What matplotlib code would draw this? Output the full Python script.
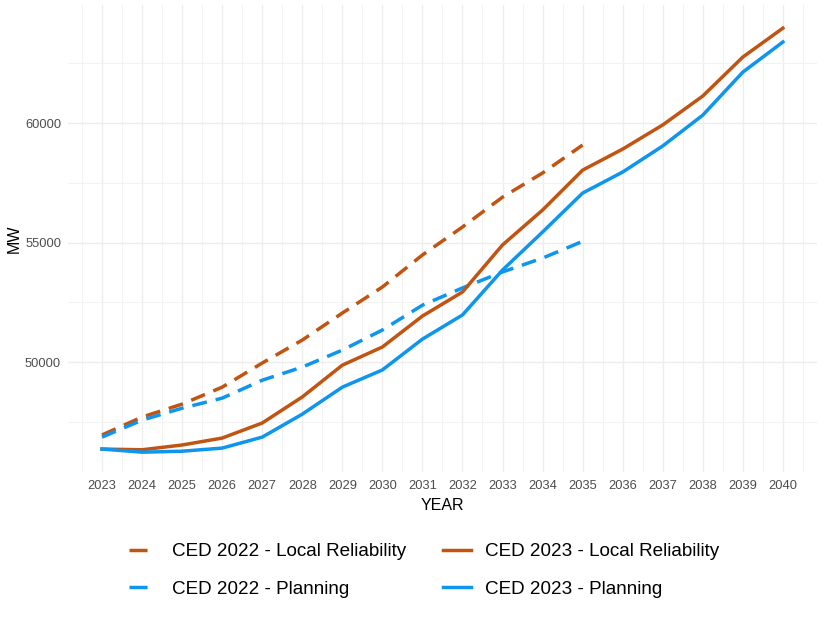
import matplotlib
matplotlib.use('Agg')
import matplotlib.pyplot as plt
from matplotlib.lines import Line2D
from matplotlib.ticker import MultipleLocator

plt.rcParams['font.family'] = ['Liberation Sans', 'DejaVu Sans']

years_2023 = list(range(2023, 2041))
years_2022 = list(range(2023, 2036))

# CED 2023 forecasts (MW)
ced23_local = [46360, 46330, 46530, 46820, 47450, 48540, 49870, 50630, 51925,
               52930, 54900, 56360, 58030, 58910, 59920, 61130, 62760, 63970]
ced23_plan = [46360, 46230, 46270, 46400, 46860, 47820, 48950, 49670, 50960,
              51970, 53850, 55440, 57070, 57950, 59040, 60330, 62130, 63390]

# CED 2022 forecasts (MW)
ced22_local = [46950, 47700, 48240, 48950, 49960, 50920, 52050, 53140, 54480,
               55650, 56900, 57910, 59080]
ced22_plan = [46860, 47570, 48070, 48490, 49240, 49790, 50500, 51340, 52380,
              53100, 53770, 54350, 55050]

orange = '#C25412'
blue = '#0E95EE'
lw = 2.5
dash = (4.3, 2.6)

fig = plt.figure(figsize=(8.26, 6.2), dpi=100)
ax = fig.add_axes([0.0823, 0.2387, 0.9067, 0.7533])

ax.plot(years_2022, ced22_local, color=orange, lw=lw, dashes=dash)
ax.plot(years_2022, ced22_plan, color=blue, lw=lw, dashes=dash)
ax.plot(years_2023, ced23_local, color=orange, lw=lw)
ax.plot(years_2023, ced23_plan, color=blue, lw=lw)

ax.set_xlim(2022.15, 2040.85)
ax.set_ylim(45400, 64940)
ax.set_xticks(years_2023)
ax.xaxis.set_minor_locator(MultipleLocator(0.5))
ax.set_yticks([50000, 55000, 60000])
ax.yaxis.set_minor_locator(MultipleLocator(2500))

ax.grid(which='major', color='#EDEDED', lw=1.0)
ax.grid(which='minor', color='#F3F3F3', lw=0.8)
ax.set_axisbelow(True)
for s in ax.spines.values():
    s.set_visible(False)
ax.tick_params(which='both', length=0)
ax.tick_params(axis='x', labelsize=9.3, labelcolor='#4D4D4D', pad=6)
ax.tick_params(axis='y', labelsize=9.3, labelcolor='#4D4D4D', pad=5)

ax.set_xlabel('YEAR', fontsize=11.5, labelpad=4)
ax.set_ylabel('MW', fontsize=11.5, labelpad=2)

handles = [
    Line2D([], [], color=orange, lw=lw, dashes=(5.2, 4)),
    Line2D([], [], color=blue, lw=lw, dashes=(5.2, 4)),
    Line2D([], [], color=orange, lw=lw),
    Line2D([], [], color=blue, lw=lw),
]
labels = ['CED 2022 - Local Reliability', 'CED 2022 - Planning',
          'CED 2023 - Local Reliability', 'CED 2023 - Planning']
fig.legend(handles, labels, ncol=2, loc='center', bbox_to_anchor=(0.514, 0.080),
           frameon=False, fontsize=13.6, handlelength=1.53, handletextpad=0.74,
           columnspacing=1.9, labelspacing=1.05)

fig.savefig('out.png', dpi=100)
